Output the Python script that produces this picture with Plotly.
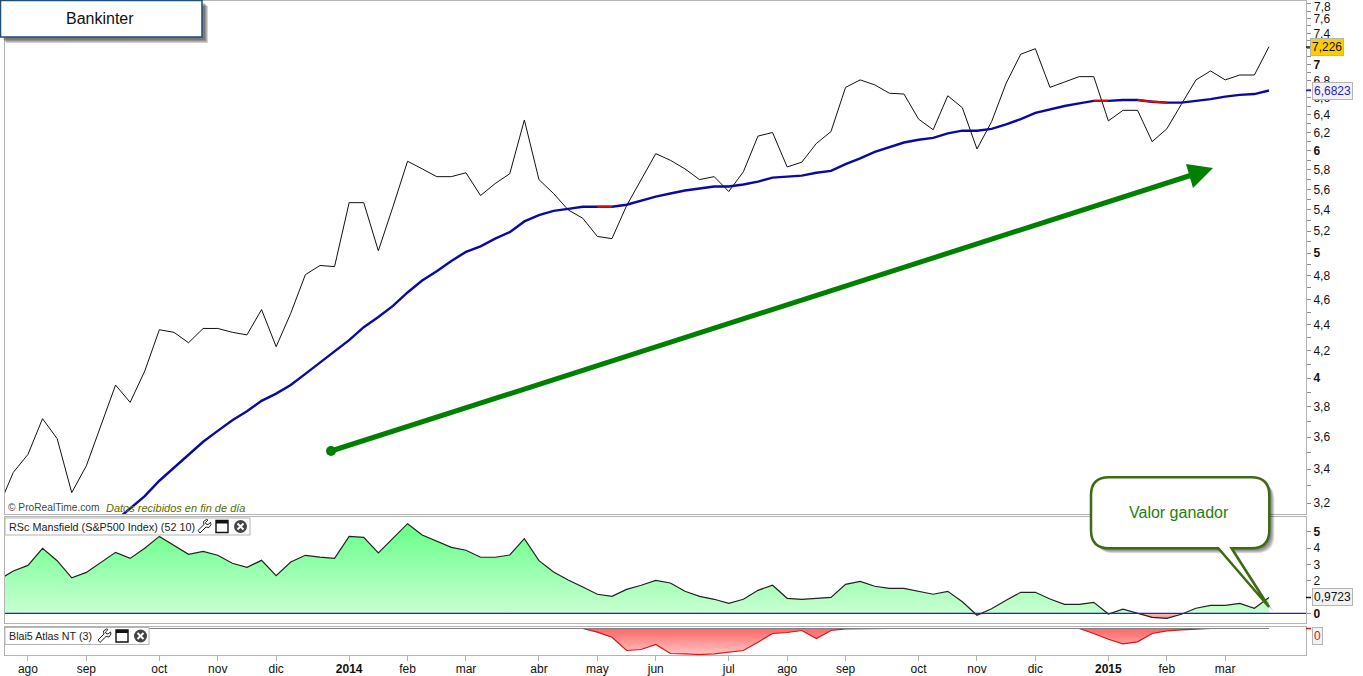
import math
import pandas as pd
import plotly.graph_objects as go
from plotly.subplots import make_subplots

W, H = 1363, 676

close = [3.18, 3.38, 3.49, 3.72, 3.59, 3.26, 3.42, 3.68, 3.95, 3.83, 4.05, 4.36, 4.34, 4.26, 4.37, 4.37,
         4.34, 4.32, 4.52, 4.23, 4.49, 4.81, 4.89, 4.88, 5.47, 5.47, 5.02, 5.43, 5.89, 5.81, 5.73, 5.73,
         5.77, 5.54, 5.66, 5.76, 6.34, 5.70, 5.56, 5.40, 5.32, 5.15, 5.13, 5.44, 5.70, 5.97, 5.90, 5.81,
         5.70, 5.73, 5.58, 5.78, 6.16, 6.20, 5.83, 5.88, 6.08, 6.21, 6.72, 6.81, 6.75, 6.65, 6.64, 6.35,
         6.23, 6.62, 6.48, 6.02, 6.32, 6.77, 7.13, 7.20, 6.72, 6.78, 6.85, 6.85, 6.33, 6.45, 6.45, 6.10,
         6.24, 6.52, 6.81, 6.92, 6.81, 6.87, 6.87, 7.226]

ma = [None] * 8 + [
    3.10, 3.17, 3.24, 3.33, 3.41, 3.49, 3.57, 3.64, 3.71, 3.77, 3.84, 3.89, 3.95, 4.03, 4.11, 4.19,
    4.28, 4.38, 4.46, 4.55, 4.66, 4.76, 4.84, 4.93, 5.01, 5.06, 5.13, 5.19, 5.29, 5.35, 5.39, 5.41,
    5.43, 5.43, 5.43, 5.45, 5.49, 5.53, 5.56, 5.59, 5.61, 5.63, 5.63, 5.65, 5.68, 5.72, 5.73, 5.74,
    5.77, 5.79, 5.86, 5.92, 5.99, 6.04, 6.09, 6.12, 6.14, 6.19, 6.22, 6.22, 6.24, 6.29, 6.35, 6.42,
    6.46, 6.50, 6.53, 6.56, 6.56, 6.57, 6.57, 6.55, 6.54, 6.54, 6.56, 6.58, 6.61, 6.63, 6.64, 6.6823]

ma_falling = ["2014-05-05", "2014-05-12", "2014-12-29", "2015-01-05", "2015-01-19", "2015-01-26", "2015-02-02"]

rsc = [2.06, 2.60, 2.94, 3.99, 3.23, 2.18, 2.51, 3.10, 3.74, 3.37, 3.99, 4.72, 4.15, 3.62, 3.80, 3.56,
       3.07, 2.82, 3.25, 2.31, 3.15, 3.56, 3.45, 3.37, 4.72, 4.66, 3.70, 4.60, 5.50, 4.80, 4.42, 4.05,
       3.87, 3.44, 3.44, 3.58, 4.58, 3.23, 2.53, 2.04, 1.61, 1.17, 1.04, 1.47, 1.72, 2.02, 1.86, 1.35,
       1.04, 0.86, 0.61, 0.86, 1.41, 1.72, 0.92, 0.86, 0.92, 0.98, 1.78, 1.96, 1.66, 1.53, 1.53, 1.35,
       1.17, 1.35, 0.71, -0.12, 0.28, 0.80, 1.29, 1.29, 0.88, 0.55, 0.55, 0.67, -0.04, 0.25, -0.02, -0.25,
       -0.31, -0.06, 0.31, 0.49, 0.49, 0.61, 0.31, 0.9723]

atlas = [0] * 41 + [-3.7, -8.7, -22, -21, -16, -25, -25.3, -26, -25.3, -24, -22, -13.7, -5, -4, -2, -10, -2, -0.3] + \
        [0] * 16 + [-5, -10.7, -15.3, -13.3, -5, -2.3, -1.3, -0.3] + [0] * 5

month_ticks = ["2013-08-05", "2013-09-02", "2013-10-07", "2013-11-04", "2013-12-02", "2014-01-06", "2014-02-03",
               "2014-03-03", "2014-04-07", "2014-05-05", "2014-06-02", "2014-07-07", "2014-08-04", "2014-09-01",
               "2014-10-06", "2014-11-03", "2014-12-01", "2015-01-05", "2015-02-02", "2015-03-02"]
month_labels = ["ago", "sep", "oct", "nov", "dic", "<b>2014</b>", "feb", "mar", "abr", "may", "jun", "jul",
                "ago", "sep", "oct", "nov", "dic", "<b>2015</b>", "feb", "mar"]

price_ticks = [round(3.1 + 0.1 * i, 1) for i in range(48)]
rsc_ticks = [0, 1, 2, 3, 4, 5]
# the 1 is hidden behind the last value badge in the original
rsc_labels = ["<b>0</b>", "", "2", "3", "4", "<b>5</b>"]

dates = pd.date_range("2013-07-22", periods=len(close), freq="7D")
assert len(ma) == len(close) == len(rsc) == len(atlas)


def price_label(v):
    # 7,8 sits against the top of the page, it is placed by hand further down
    # 7,2 is hidden behind the last value badge in the original
    if v > 7.7 or v == 7.2 or (v * 5 % 1 > 0.01 and v * 5 % 1 < 0.99):
        return ""
    if abs(v - round(v)) < 0.01:
        return "<b>%d</b>" % round(v)
    return ("%.1f" % v).replace(".", ",")


def dom(top, bottom):
    return [1 - bottom / H, 1 - top / H]


def pt(x, y):
    return "%.5f,%.5f" % (x / W, 1 - y / H)


def poly(points):
    return "M" + " L".join(pt(x, y) for x, y in points) + " Z"


def paper_shape(path, **kw):
    return dict(type="path", xref="paper", yref="paper", path=path, **kw)


def rounded(x0, y0, x1, y1, r, tail=None):
    p = "M" + pt(x0 + r, y0) + " L" + pt(x1 - r, y0) + " Q" + pt(x1, y0) + " " + pt(x1, y0 + r)
    p += " L" + pt(x1, y1 - r) + " Q" + pt(x1, y1) + " " + pt(x1 - r, y1)
    if tail:
        p += " L" + " L".join(pt(a, b) for a, b in tail)
    p += " L" + pt(x0 + r, y1) + " Q" + pt(x0, y1) + " " + pt(x0, y1 - r)
    p += " L" + pt(x0, y0 + r) + " Q" + pt(x0, y0) + " " + pt(x0 + r, y0) + " Z"
    return p


fig = make_subplots(rows=3, cols=1, shared_xaxes=True)

# price panel
fig.add_trace(go.Scatter(x=dates, y=close, mode="lines", line=dict(color="#111111", width=1)), row=1, col=1)
fig.add_trace(go.Scatter(x=dates, y=ma, mode="lines", line=dict(color="#0a0aa0", width=2.4)), row=1, col=1)
falling = [v if str(d.date()) in ma_falling else None for d, v in zip(dates, ma)]
fig.add_trace(go.Scatter(x=dates, y=falling, mode="lines", line=dict(color="#d80a0a", width=2.2)), row=1, col=1)

# relative strength panel
rsc_pos = [max(v, 0) for v in rsc]
rsc_neg = [min(v, 0) for v in rsc]
fig.add_trace(go.Scatter(x=dates, y=rsc_pos, mode="lines", line=dict(width=0), fill="tozeroy",
                         fillgradient=dict(type="vertical", start=0, stop=5.5,
                                           colorscale=[[0, "#c8ffd2"], [1, "#66ff88"]])), row=2, col=1)
fig.add_trace(go.Scatter(x=dates, y=rsc_neg, mode="lines", line=dict(width=0), fill="tozeroy",
                         fillgradient=dict(type="vertical", start=-0.31, stop=0,
                                           colorscale=[[0, "#e88a8a"], [1, "#ffc8c8"]])), row=2, col=1)
fig.add_trace(go.Scatter(x=dates, y=rsc, mode="lines", line=dict(color="#222222", width=1.2)), row=2, col=1)

# atlas panel
fig.add_trace(go.Scatter(x=dates, y=atlas, mode="lines", line=dict(color="#e01010", width=1.2), fill="tozeroy",
                         fillgradient=dict(type="vertical", start=-26, stop=0,
                                           colorscale=[[0, "#ffc4c4"], [1, "#ff6666"]])), row=3, col=1)
fig.add_trace(go.Scatter(x=dates, y=[0] * len(dates), mode="lines", line=dict(color="#808080", width=1.2)), row=3, col=1)

frame = dict(showline=True, linecolor="#b4b4b4", linewidth=1, mirror=True, showgrid=False, zeroline=False,
             automargin=False)
tickfont = dict(family="Liberation Sans", size=12, color="#111111")
x_range = ["2013-07-25", "2015-04-09 18:00"]
x_dom = [5 / W, 1306 / W]

fig.update_xaxes(range=x_range, domain=x_dom, tickmode="array", tickvals=month_ticks, ticktext=month_labels,
                 ticks="outside", ticklen=5, tickcolor="#b4b4b4", tickfont=tickfont, ticklabelstandoff=-2, **frame)
fig.update_xaxes(ticks="", showticklabels=False, row=1, col=1)
fig.update_xaxes(ticks="", showticklabels=False, row=2, col=1)

y_common = dict(side="right", ticks="outside", ticklen=4, tickcolor="#8c8c8c", tickfont=tickfont, **frame)
fig.update_yaxes(type="log", range=[math.log10(3.138), math.log10(7.84)], domain=dom(1, 514), tickmode="array",
                 tickvals=price_ticks, ticktext=[price_label(v) for v in price_ticks], row=1, col=1, **y_common)
fig.update_yaxes(range=[-0.595, 5.91], domain=dom(517, 623), tickmode="array", tickvals=rsc_ticks,
                 ticktext=rsc_labels, row=2, col=1, **y_common)
fig.update_yaxes(range=[-26.5, 1.8], domain=dom(626.7, 655), showticklabels=False, row=3, col=1,
                 **dict(y_common, ticks=""))

shapes = []

# zero line of the relative strength panel, above the fill
shapes.append(dict(type="line", xref="x domain", yref="y2", x0=0, x1=1, y0=0, y1=0,
                   line=dict(color="#2222bb", width=1.2)))

# green trend arrow
shapes.append(dict(type="line", xref="paper", yref="paper", x0=331 / W, y0=1 - 451 / H, x1=1195 / W, y1=1 - 174 / H,
                   line=dict(color="#008000", width=5)))
shapes.append(dict(type="circle", xref="paper", yref="paper", x0=326 / W, y0=1 - 456 / H, x1=336 / W, y1=1 - 446 / H,
                   fillcolor="#008000", line=dict(color="#008000", width=0)))
shapes.append(paper_shape(poly([(1213, 168), (1186, 164), (1193, 188)]), fillcolor="#008000",
                          line=dict(color="#008000", width=0)))

# title box
for off in (3, 4, 5, 6):
    shapes.append(paper_shape(poly([(off, off), (202 + off, off), (202 + off, 37 + off), (off, 37 + off)]),
                              fillcolor="rgba(0,0,0,0.17)", line=dict(width=0)))
shapes.append(paper_shape(poly([(0.5, 0.5), (202, 0.5), (202, 37), (0.5, 37)]), fillcolor="white",
                          line=dict(color="#1f4e79", width=1.5)))

# callout
tail = [(1231.5, 548.3), (1269, 607), (1218.3, 548.3)]
for off in (2, 3, 4, 5):
    shifted = [(a + off, b + off) for a, b in tail]
    shapes.append(paper_shape(rounded(1091 + off, 477.3 + off, 1269.3 + off, 548.3 + off, 18, shifted),
                              fillcolor="rgba(0,0,0,0.14)", line=dict(width=0)))
shapes.append(paper_shape(rounded(1091, 477.3, 1269.3, 548.3, 18, tail), fillcolor="white",
                          line=dict(color="#3f6a14", width=2.5)))


# indicator header boxes with their little icons
def header(x1, y0, y1, wrench_x):
    cy = (y0 + y1) / 2
    shapes.append(paper_shape(poly([(5, y0), (x1, y0), (x1, y1), (5, y1)]), fillcolor="white",
                              line=dict(color="#b4b4b4", width=1)))
    wrench = [(-6, 4), (0, -2), (-0.5, -5), (2.5, -7), (4, -6.5), (1.5, -4), (2, -2.5), (4, -2), (6.5, -4), (7, -2),
              (5, 1), (2, 0.5), (-4, 6.5)]
    shapes.append(paper_shape(poly([(wrench_x + a, cy + b) for a, b in wrench]), fillcolor="white",
                              line=dict(color="#222222", width=1)))
    wx = wrench_x + 18
    shapes.append(paper_shape(poly([(wx - 6, cy - 6), (wx + 6, cy - 6), (wx + 6, cy + 6), (wx - 6, cy + 6)]),
                              fillcolor="white", line=dict(color="#111111", width=1.4)))
    shapes.append(paper_shape(poly([(wx - 6, cy - 6), (wx + 6, cy - 6), (wx + 6, cy - 3), (wx - 6, cy - 3)]),
                              fillcolor="#111111", line=dict(width=0)))
    cx = wrench_x + 36.5
    shapes.append(dict(type="circle", xref="paper", yref="paper", x0=(cx - 6.5) / W, x1=(cx + 6.5) / W,
                       y0=1 - (cy + 6.5) / H, y1=1 - (cy - 6.5) / H, fillcolor="#444444", line=dict(width=0)))
    for d in (-1, 1):
        shapes.append(dict(type="line", xref="paper", yref="paper", x0=(cx - 3) / W, x1=(cx + 3) / W,
                           y0=1 - (cy - 3 * d) / H, y1=1 - (cy + 3 * d) / H, line=dict(color="white", width=2)))


header(250, 518, 535, 204)
header(149, 627.5, 644.5, 104)


# small coloured ticks beside the last values
def value_tick(y, color):
    shapes.append(dict(type="line", xref="paper", yref="paper", x0=1306 / W, x1=1311 / W, y0=1 - y / H, y1=1 - y / H,
                       line=dict(color=color, width=1.5)))


value_tick(47, "#111111")
value_tick(90.5, "#2222cc")
value_tick(597.5, "#111111")
value_tick(628.5, "#e01010")


def text(x, y, s, size=12, color="#111111", anchor="left", **kw):
    return dict(xref="paper", yref="paper", x=x / W, y=1 - y / H, text=s, showarrow=False, xanchor=anchor,
                yanchor="middle", font=dict(family="Liberation Sans", size=size, color=color), **kw)


def badge(yval, yref, s, color, bg, x, yshift=0):
    return dict(xref="paper", yref=yref, x=x / W, y=yval, text=s, showarrow=False, xanchor="left", yanchor="middle",
                yshift=yshift, font=dict(family="Liberation Sans", size=12, color=color), bgcolor=bg,
                bordercolor="#b4b4b4", borderwidth=1, borderpad=1)


annotations = [
    text(100, 18, "Bankinter", size=16, anchor="center"),
    text(1179, 512, "Valor ganador", size=16, color="#1f8010", anchor="center"),
    text(6, 508, "© ProRealTime.com", size=10.2, color="#3c4a4a"),
    text(104, 508, "<i>Datos recibidos en fin de día</i>", size=11, color="#5a6a00"),
    text(7, 527, "RSc Mansfield (S&P500 Index) (52 10)", size=10.8, color="#222222"),
    text(7, 636, "Blai5 Atlas NT (3)", size=10.7, color="#222222"),
    text(1312, 7, "7,8"),
    badge(math.log10(close[-1]), "y", "7,226", "#111111", "#ffcc00", 1310),
    badge(math.log10(ma[-1]), "y", "6,6823", "#2222cc", "#f2f2f2", 1312),
    badge(rsc[-1], "y2", "0,9723", "#111111", "#f2f2f2", 1312),
    badge(atlas[-1], "y3", "0", "#e01010", "#f2f2f2", 1312, yshift=-7),
]

fig.update_layout(width=W, height=H, autosize=False, margin=dict(l=0, r=0, t=0, b=0), showlegend=False,
                  paper_bgcolor="white", plot_bgcolor="white", shapes=shapes, annotations=annotations)

fig.write_html("out.html", config=dict(displayModeBar=False), post_script="document.body.style.margin='0';")
